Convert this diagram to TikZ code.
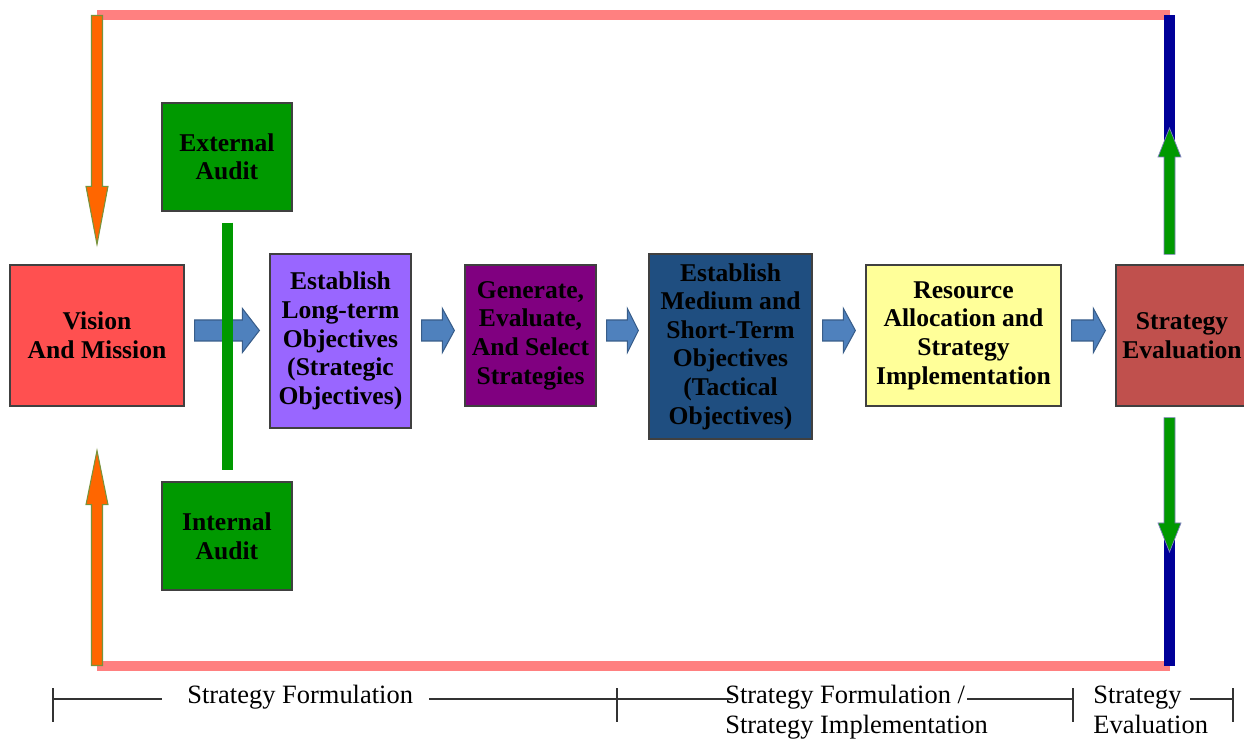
\documentclass[tikz,border=0pt]{standalone}
\usepackage{fontspec}
\setmainfont{Liberation Serif}
\usetikzlibrary{calc}

% one drawing unit in points
\def\pxu{0.5669pt}

\definecolor{pinkline}{HTML}{FF8080}
\definecolor{orangefill}{HTML}{FF6600}
\definecolor{orangeedge}{HTML}{77933C}
\definecolor{auditgreen}{HTML}{009900}
\definecolor{greenedge}{HTML}{7F7FBF}
\definecolor{evalnavy}{HTML}{000099}
\definecolor{visionred}{HTML}{FF5050}
\definecolor{longpurple}{HTML}{9966FF}
\definecolor{genpurple}{HTML}{800080}
\definecolor{mediumblue}{HTML}{1F4E80}
\definecolor{resyellow}{HTML}{FFFF99}
\definecolor{evalred}{HTML}{C0504D}
\definecolor{flowblue}{HTML}{4F81BD}
\definecolor{flowedge}{HTML}{385D8A}
\definecolor{boxedge}{HTML}{404040}
\definecolor{timegray}{HTML}{333333}

% vertical block arrow: style, tail, tip, head length, half head width
\newcommand{\vblockarrow}[5]{%
  \path[#1] let \p1=(#2), \p2=(#3), \p3=($(#3)!#4*\pxu!(#2)$) in
    (\x1-5.5*\pxu,\y1) -- (\x1-5.5*\pxu,\y3) -- (\x1-#5*\pxu,\y3) -- (\x2,\y2)
    -- (\x1+#5*\pxu,\y3) -- (\x1+5.5*\pxu,\y3) -- (\x1+5.5*\pxu,\y1) -- cycle;}

% horizontal block arrow between two boxes: from, to, head length
\newcommand{\hblockarrow}[3]{%
  \path[flowarrow] let \p1=($(#1.east)+(10,0)$), \p2=($(#2.west)+(-10,0)$), \p3=(0,330.5) in
    (\x1,\y3+10.5*\pxu) -- (\x2-#3*\pxu,\y3+10.5*\pxu) -- (\x2-#3*\pxu,\y3+22*\pxu)
    -- (\x2,\y3) -- (\x2-#3*\pxu,\y3-22*\pxu) -- (\x2-#3*\pxu,\y3-10.5*\pxu)
    -- (\x1,\y3-10.5*\pxu) -- cycle;}

\begin{document}
\begin{tikzpicture}[x=0.5669pt,y=-0.5669pt,
  box/.style={draw=boxedge, line width=0.7pt, align=center, inner sep=0pt,
    font=\fontsize{14.5}{16.2}\selectfont\bfseries},
  phaselabel/.style={inner sep=0pt, anchor=base west, font=\fontsize{15}{17}\selectfont},
  pinkbar/.style={draw=pinkline, line width=10*\pxu},
  navybar/.style={draw=evalnavy, line width=11*\pxu},
  auditbar/.style={draw=auditgreen, line width=11*\pxu},
  orangearrow/.style={fill=orangefill, draw=orangeedge, line width=0.6pt},
  greenarrow/.style={fill=auditgreen, draw=greenedge, line width=0.4pt},
  flowarrow/.style={fill=flowblue, draw=flowedge, line width=0.6pt},
  timeline/.style={draw=timegray, line width=0.7pt}]

\useasboundingbox (0,0) rectangle (1244,740);

% corners of the feedback frame
\coordinate (tl) at (97,15.5);
\coordinate (tr) at (1169.5,15.5);
\coordinate (bl) at (97,665.5);
\coordinate (br) at (1169.5,665.5);

% process boxes
\node[box, fill=auditgreen, minimum width=130*\pxu, minimum height=108*\pxu] (ext) at (227,157) {External\\Audit};
\node[box, fill=auditgreen, minimum width=130*\pxu, minimum height=108*\pxu] (int) at (227,536) {Internal\\Audit};
\node[box, fill=visionred, minimum width=174*\pxu, minimum height=141*\pxu] (vision) at (97,335.5) {Vision\\And Mission};
\node[box, fill=longpurple, minimum width=141*\pxu, minimum height=174*\pxu] (longterm) at (340.5,341) {Establish\\Long-term\\Objectives\\(Strategic\\Objectives)};
\node[box, fill=genpurple, minimum width=131*\pxu, minimum height=141*\pxu] (generate) at (530.5,335.5) {Generate,\\Evaluate,\\And Select\\Strategies};
\node[box, fill=mediumblue, minimum width=163*\pxu, minimum height=185*\pxu] (medium) at (730.5,346.5) {Establish\\Medium and\\Short-Term\\Objectives\\(Tactical\\Objectives)};
\node[box, fill=resyellow, minimum width=195*\pxu, minimum height=141*\pxu] (resource) at (963.5,335.5) {Resource\\Allocation and\\Strategy\\Implementation};
\node[box, fill=evalred, minimum width=132*\pxu, minimum height=141*\pxu] (eval) at (1182,335.5) {Strategy\\Evaluation};

% feedback frame
\draw[pinkbar] (tl) -- (tr);
\draw[pinkbar] (bl) -- (br);
\draw[navybar] (tr) -- ($(tr |- eval.north)+(0,-120)$);
\draw[navybar] ($(br |- eval.south)+(0,130)$) -- (br);

% arrow ends
\coordinate (otip1) at ($(vision.north)+(0,-20)$);
\coordinate (otip2) at ($(vision.south)+(0,44)$);
\coordinate (gtail1) at ($(tr |- eval.north)+(0,-10)$);
\coordinate (gtip1) at ($(tr)+(0,112.5)$);
\coordinate (gtail2) at ($(br |- eval.south)+(0,11)$);
\coordinate (gtip2) at ($(br)+(0,-113.5)$);

\vblockarrow{orangearrow}{tl}{otip1}{58}{11}
\vblockarrow{orangearrow}{bl}{otip2}{54}{11}
\vblockarrow{greenarrow}{gtail1}{gtip1}{29}{11.5}
\vblockarrow{greenarrow}{gtail2}{gtip2}{29}{11.5}

% main flow
\hblockarrow{vision}{longterm}{17}
\hblockarrow{longterm}{generate}{12}
\hblockarrow{generate}{medium}{11}
\hblockarrow{medium}{resource}{12}
\hblockarrow{resource}{eval}{12}

% audits feeding the flow, laid over the first arrow
\draw[auditbar] ($(ext.south)+(0,11)$) -- ($(int.north)+(0,-11)$);

% phase time line
\coordinate (t0) at (53,699);
\coordinate (t1) at (617,699);
\coordinate (t2) at (1073,699);
\coordinate (t3) at (1233,699);
\node[phaselabel] (lab1) at (187,703) {Strategy Formulation};
\node[phaselabel] (lab2a) at (725,703) {Strategy Formulation /};
\node[phaselabel] (lab2b) at (725,733) {Strategy Implementation};
\node[phaselabel] (lab3a) at (1093,703) {Strategy};
\node[phaselabel] (lab3b) at (1093,733) {Evaluation};
\draw[timeline] (t0) -- ($(t0 -| lab1.west)+(-25,0)$);
\draw[timeline] ($(t1 -| lab1.east)+(16,0)$) -- ($(t1 -| lab2a.west)+(8,0)$);
\draw[timeline] ($(t2 -| lab2a.east)+(2,0)$) -- (t2);
\draw[timeline] ($(t3 -| lab3a.east)+(8,0)$) -- (t3);
\foreach \t in {t0,t1,t2,t3}
  \draw[timeline] ($(\t)+(0,-11)$) -- ($(\t)+(0,23)$);

\end{tikzpicture}
\end{document}
